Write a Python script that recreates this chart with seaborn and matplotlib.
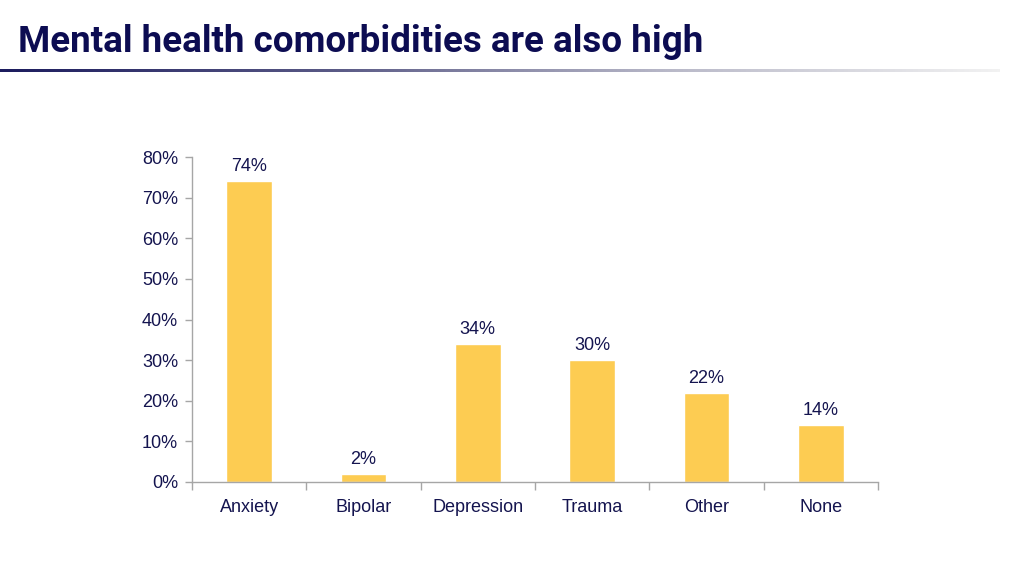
import numpy as np
import pandas as pd
import matplotlib
matplotlib.use("Agg")
import matplotlib.pyplot as plt
import seaborn as sns
from matplotlib.colors import LinearSegmentedColormap

categories = ["Anxiety", "Bipolar", "Depression", "Trauma", "Other", "None"]
values = [74, 2, 34, 30, 22, 14]
yticks = [0, 10, 20, 30, 40, 50, 60, 70, 80]

sns.set_theme(style="white")
plt.rcParams['font.family'] = ['Liberation Sans', 'DejaVu Sans']

navy = "#14144f"
bar_color = "#FDCC52"
spine_gray = "#A6A6A6"
lab_font = ['Liberation Sans', 'DejaVu Sans']

fig = plt.figure(figsize=(10.24, 5.76), dpi=100)
fig.patch.set_facecolor("white")

# Title
fig.text(18/1024, 1 - 52/576, "Mental health comorbidities are also high",
         fontsize=26.5, fontweight="bold", color="#0c0c52",
         family=['Roboto', 'DejaVu Sans'], va="baseline", ha="left")

# Gradient rule under title
lax = fig.add_axes([0, 1 - 72/576, 1000/1024, 3/576])
grad = np.linspace(0, 1, 512).reshape(1, -1)
cmap = LinearSegmentedColormap.from_list("g", ["#1c1c5e", "#5a5a86", "#b8b8c8", "#f2f2f2"])
lax.imshow(grad, aspect="auto", cmap=cmap, extent=[0, 1, 0, 1])
lax.axis("off")

ax = fig.add_axes([192/1024, 1 - 482/576, (878-192)/1024, (482-157)/576])
df = pd.DataFrame({"cat": categories, "val": values})
sns.barplot(data=df, x="cat", y="val", color=bar_color, saturation=1, width=0.4, ax=ax)

ax.set_ylim(0, 80)
ax.set_xlim(-0.5, len(categories) - 0.5)
ax.set_yticks(yticks)
ax.set_yticklabels([f"{t}%" for t in yticks], fontsize=13, color=navy, family=lab_font)
ax.set_xticks(range(len(categories)))
ax.set_xticklabels(categories, fontsize=13, color=navy, family=lab_font)
ax.set_xlabel("")
ax.set_ylabel("")

for s in ["top", "right"]:
    ax.spines[s].set_visible(False)
for s in ["left", "bottom"]:
    ax.spines[s].set_color(spine_gray)
    ax.spines[s].set_linewidth(1)

ax.tick_params(axis="y", which="major", length=5, color=spine_gray, width=1, pad=5, left=True)
ax.tick_params(axis="x", which="major", length=0, pad=12)
ax.set_xticks(np.arange(-0.5, len(categories)), minor=True)
ax.tick_params(axis="x", which="minor", length=6, color=spine_gray, width=1, bottom=True)
ax.grid(False)

for i, v in enumerate(values):
    ax.text(i, v + 1.5, f"{v}%", ha="center", va="bottom", fontsize=13, color=navy,
            family=lab_font)

fig.savefig("out.png", dpi=100)
